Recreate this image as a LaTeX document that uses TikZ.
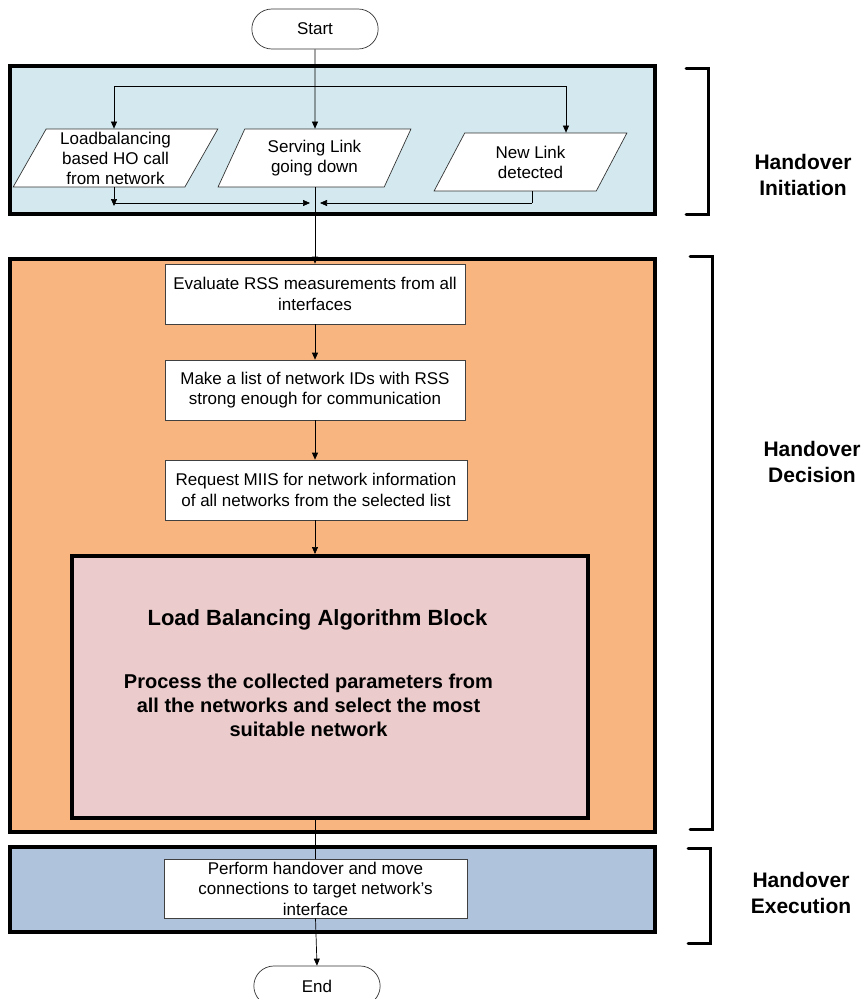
\documentclass[tikz,border=0pt]{standalone}
\usepackage{fontspec}
\setmainfont{Liberation Sans}
\usetikzlibrary{shapes.geometric,shapes.misc,arrows.meta}
\definecolor{initblue}{HTML}{D3E9EF}
\definecolor{decorange}{HTML}{F8B57F}
\definecolor{algpink}{HTML}{EBCBCB}
\definecolor{execblue}{HTML}{B0C3DD}
\begin{document}
\begin{tikzpicture}[x=1pt,y=-1pt,
  phase/.style={draw=black, line width=4pt, minimum width=645pt},
  stepbox/.style={draw=black!75, fill=white, line width=0.7pt, align=center,
    font=\fontsize{17}{20.5}\selectfont, inner sep=1pt, minimum width=300pt, minimum height=60pt},
  inbox/.style={trapezium, trapezium left angle=63.4, trapezium right angle=116.6,
    trapezium stretches=true, draw=black!80, fill=white, line width=0.7pt, align=center,
    font=\fontsize{17}{20}\selectfont, inner sep=0pt, minimum height=58pt},
  term/.style={rounded rectangle, draw=black!80, fill=white, line width=0.7pt,
    font=\fontsize{17}{20}\selectfont, minimum width=133pt, minimum height=40pt},
  arr/.style={-{Triangle[length=7pt,width=6pt]}, line width=0.7pt},
  link/.style={line width=0.7pt},
  bracket/.style={line width=3pt, line cap=round},
  phaselabel/.style={align=center, font=\bfseries\fontsize{21}{26.5}\selectfont}
]
\useasboundingbox (0,0) rectangle (866,999);

% phase containers
\node[phase, fill=initblue, minimum height=148pt] (init) at (332.5,140) {};
\node[phase, fill=decorange, minimum height=573pt] (dec) at (332.5,545.5) {};
\node[phase, fill=execblue, minimum height=85pt] (exec) at (332.5,889.5) {};

% terminals
\node[term] (start) at (315,29) {Start};
\node[term] (endn) at (317,986) {End};

% handover triggers
\node[inbox, minimum width=205pt] (lb) at (115.5,158)
  {Loadbalancing\\based HO call\\from network};
\node[inbox, minimum width=193pt] (sl) at (314.5,158) {Serving Link\\going down};
\node[inbox, minimum width=193pt] (nl) at (530.5,162) {New Link\\detected};

% decision steps
\node[stepbox] (eval) at (315,294) {Evaluate RSS measurements from all\\interfaces};
\node[stepbox] (list) at (315,390) {Make a list of network IDs with RSS\\strong enough for communication};
\node[stepbox, minimum width=302pt] (miis) at (316,490) {Request MIIS for network information\\of all networks from the selected list};

% algorithm block
\node[draw=black, line width=4pt, fill=algpink, minimum width=516pt, minimum height=262pt]
  (alg) at (330,687) {};
\node[font=\bfseries\fontsize{22}{26}\selectfont] (algtitle) at (317.5,620)
  {Load Balancing Algorithm Block};
\node[align=center, font=\bfseries\fontsize{20}{24}\selectfont] (algtext) at (308.5,705)
  {Process the collected parameters from\\all the networks and select the most\\suitable network};

% execution step
\node[stepbox, minimum width=303pt, minimum height=59pt]
  (perf) at (315.5,888.5) {Perform handover and move\\connections to target network’s\\interface};

% junction points
\coordinate (top) at (315,86);
\coordinate (lj) at (114,86);
\coordinate (rj) at (566,86);
\coordinate (mj) at (315,203);
\coordinate (lbo) at (114,187);
\coordinate (nlo) at (532,191);

% connectors of the initiation phase
\draw[arr] (start) -- (sl.north -| start);
\draw[arr] (top) -- (lj) -- (lj |- lb.north);
\draw[arr] (top) -- (rj) -- (rj |- nl.north);
\draw[arr] (lbo) -- ([yshift=-3]lbo |- mj);
\draw[arr] (lbo |- mj) -- ([xshift=-5]mj);
\draw[link] (nlo) -- (nlo |- mj);
\draw[arr] (nlo |- mj) -- ([xshift=5]mj);

% connectors of the decision phase
\draw[arr] (sl.south -| start) -- (eval.north -| start);
\draw[arr] (eval.south -| start) -- (list.north -| start);
\draw[arr] (list.south -| start) -- (miis.north -| start);
\draw[arr] (miis.south -| start) -- (alg.north -| start);

% connectors of the execution phase
\draw[link] (alg.south -| perf) -- (perf.north);
\draw[arr] (perf.south) -- (endn.north);

% phase brackets
\draw[bracket] (686,68) -- (708,68) -- (708,214) -- (686,214);
\draw[bracket] (690,256) -- (712,256) -- (712,829) -- (690,829);
\draw[bracket] (688,848) -- (710,848) -- (710,943) -- (688,943);

\node[phaselabel] (linit) at (803,175) {Handover\\Initiation};
\node[phaselabel] (ldec) at (812,462) {Handover\\Decision};
\node[phaselabel] (lexec) at (801,893) {Handover\\Execution};
\end{tikzpicture}
\end{document}
